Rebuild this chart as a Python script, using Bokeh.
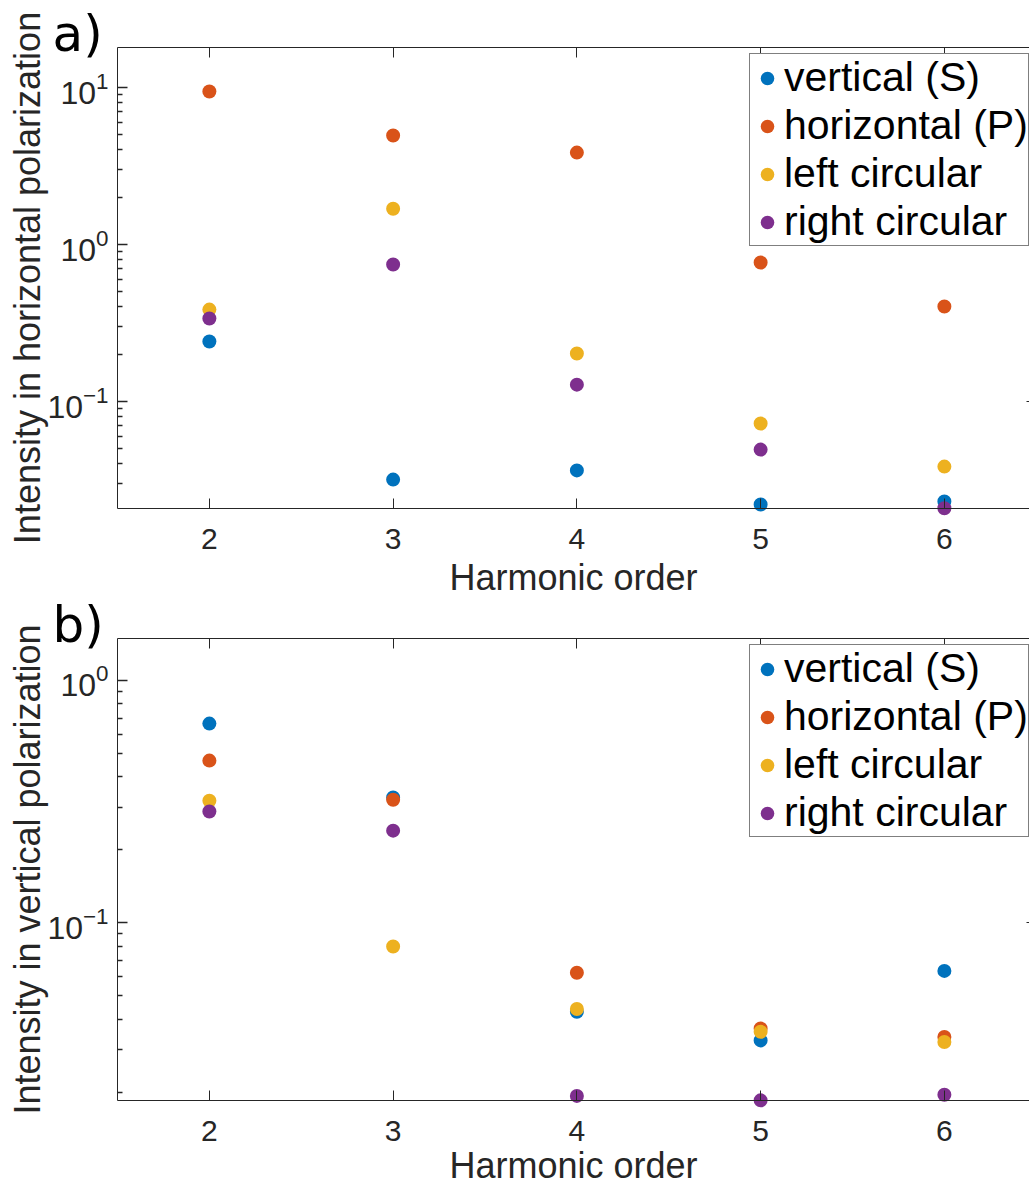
from bokeh.plotting import figure
from bokeh.models import (Range1d, LinearAxis, LogAxis, LogScale, FixedTicker,
                          Legend, LegendItem, Label)
from bokeh.embed import file_html
from bokeh.resources import INLINE

# Harmonic orders on the x axis
harmonic = [2, 3, 4, 5, 6]

series_names = ["vertical (S)", "horizontal (P)", "left circular", "right circular"]
series_colors = ["#0072BD", "#D95319", "#EDB120", "#7E2F8E"]

# a) intensity detected in horizontal polarization, per input polarization
a_vertical_s = [0.241, 0.0318, 0.0364, 0.0221, 0.0231]
a_horizontal_p = [9.43, 4.95, 3.85, 0.768, 0.403]
a_left_circular = [0.385, 1.69, 0.202, 0.0724, 0.0385]
a_right_circular = [0.338, 0.746, 0.128, 0.0494, 0.0209]

# b) intensity detected in vertical polarization, per input polarization
b_vertical_s = [0.664, 0.329, 0.0429, 0.0327, 0.0633]
b_horizontal_p = [0.467, 0.322, 0.0622, 0.0366, 0.0338]
b_left_circular = [0.319, 0.0798, 0.0441, 0.0355, 0.0322]
b_right_circular = [0.288, 0.240, 0.0193, 0.0185, 0.0195]

# axes-box limits: harmonic order, and log10 of the intensity
X_LIM = (1.5, 6.5)
A_YLIM_LOG = (-1.6815, 1.2548)
B_YLIM_LOG = (-1.7334, 0.1733)

A_MAJOR = [0.1, 1, 10]
B_MAJOR = [0.1, 1]
MINOR = [m * d for d in (0.01, 0.1, 1) for m in range(2, 10)]

AXIS_COLOR = "#262626"
FONT = "Liberation Sans"

# canvas geometry (px). The whole canvas is one plot frame; each panel's
# axes box is placed inside it through its own log y range.
W, H = 1029, 1184
BOX_LEFT = 117
PX_PER_X = 183.75
MAJOR_TICK, MINOR_TICK = 10, 5

x_range = Range1d(X_LIM[0] - BOX_LEFT / PX_PER_X, X_LIM[0] + (W - BOX_LEFT) / PX_PER_X)


def panel_range(ylog, box_top, box_bottom):
    lo, hi = ylog
    px_per_dec = (box_bottom - box_top) / (hi - lo)
    return Range1d(10 ** (lo - (H - box_bottom) / px_per_dec),
                   10 ** (hi + box_top / px_per_dec))


range_a = panel_range(A_YLIM_LOG, 47, 508)
range_b = panel_range(B_YLIM_LOG, 638, 1100)

p = figure(width=W, height=H, x_range=x_range, y_range=range_a,
           y_axis_type="log", x_axis_location=None, y_axis_location=None,
           output_backend="svg", toolbar_location=None, min_border=0)
p.extra_y_ranges = {"b": range_b}
p.extra_y_scales = {"b": LogScale()}
p.outline_line_color = None
p.background_fill_color = "white"
p.border_fill_color = "white"
p.grid.visible = False


def draw_panel(rname, tag, ylabel, values, ylog, major, box_top, xlabel_standoff):
    lo, hi = ylog
    y_lo, y_hi = 10 ** lo, 10 ** hi
    major_in = [t for t in major if y_lo <= t <= y_hi]
    minor_in = [m for m in MINOR if y_lo <= m <= y_hi]

    # left edge of the box with the axis title
    p.add_layout(LogAxis(y_range_name=rname, ticker=FixedTicker(ticks=[]),
                         fixed_location=X_LIM[0], bounds=(y_lo, y_hi),
                         axis_line_color=AXIS_COLOR,
                         major_tick_line_color=None, minor_tick_line_color=None,
                         axis_label=ylabel, axis_label_text_font=FONT,
                         axis_label_text_font_size="36px",
                         axis_label_text_font_style="normal",
                         axis_label_text_color=AXIS_COLOR, axis_label_standoff=70),
                 "left")

    # power-of-ten labels on the left edge
    p.add_layout(LogAxis(y_range_name=rname, ticker=FixedTicker(ticks=major_in),
                         fixed_location=X_LIM[0], axis_line_color=None,
                         major_tick_line_color=None, minor_tick_line_color=None,
                         major_tick_in=0, major_tick_out=0,
                         major_label_text_font=FONT, major_label_text_font_size="32px",
                         major_label_text_color=AXIS_COLOR, major_label_standoff=9),
                 "left")

    # tick marks on the left edge, pointing into the box
    p.add_layout(LogAxis(y_range_name=rname,
                         ticker=FixedTicker(ticks=major_in, minor_ticks=minor_in),
                         fixed_location=X_LIM[0], bounds=(y_lo, y_hi),
                         axis_line_color=None,
                         major_tick_line_color=AXIS_COLOR, minor_tick_line_color=AXIS_COLOR,
                         major_tick_line_width=1.3, minor_tick_line_width=1.3,
                         major_tick_in=0, major_tick_out=MAJOR_TICK,
                         minor_tick_in=0, minor_tick_out=MINOR_TICK,
                         major_label_overrides={t: "" for t in major_in}),
                 "right")

    # right edge of the box (just past the page edge), major ticks only
    p.add_layout(LogAxis(y_range_name=rname, ticker=FixedTicker(ticks=major_in),
                         fixed_location=X_LIM[1], bounds=(y_lo, y_hi),
                         axis_line_color=AXIS_COLOR,
                         major_tick_line_color=AXIS_COLOR, minor_tick_line_color=None,
                         major_tick_in=MAJOR_TICK, major_tick_out=0,
                         major_label_overrides={t: "" for t in major_in}),
                 "right")

    # bottom axis
    p.add_layout(LinearAxis(y_range_name=rname, ticker=FixedTicker(ticks=harmonic),
                            fixed_location=y_lo, bounds=X_LIM,
                            axis_line_color=AXIS_COLOR, major_tick_line_color=AXIS_COLOR,
                            major_tick_in=MAJOR_TICK, major_tick_out=0,
                            minor_tick_line_color=None,
                            major_label_text_font=FONT, major_label_text_font_size="30px",
                            major_label_text_color=AXIS_COLOR, major_label_standoff=20,
                            axis_label="Harmonic order", axis_label_text_font=FONT,
                            axis_label_text_font_size="36px",
                            axis_label_text_font_style="normal",
                            axis_label_text_color=AXIS_COLOR,
                            axis_label_standoff=xlabel_standoff),
                 "below")

    # top edge of the box with inward ticks
    p.add_layout(LinearAxis(y_range_name=rname, ticker=FixedTicker(ticks=harmonic),
                            fixed_location=y_hi, bounds=X_LIM,
                            axis_line_color=AXIS_COLOR, major_tick_line_color=AXIS_COLOR,
                            major_tick_in=MAJOR_TICK, major_tick_out=0,
                            minor_tick_line_color=None,
                            major_label_overrides={h: "" for h in harmonic}),
                 "above")

    items = []
    for name, color, vals in zip(series_names, series_colors, values):
        r = p.scatter(harmonic, vals, size=14, fill_color=color, line_color=None,
                      y_range_name=rname)
        items.append(LegendItem(label=name, renderers=[r]))

    legend_h = 191
    p.add_layout(Legend(items=items, location=(749, H - (box_top + 8 + legend_h)),
                        glyph_width=34, glyph_height=34, label_height=47,
                        label_standoff=0, padding=0, spacing=1, margin=0,
                        label_text_font=FONT, label_text_font_size="41px",
                        label_text_color="black", border_line_color="black",
                        border_line_width=1, background_fill_color="white",
                        background_fill_alpha=1))

    p.add_layout(Label(x=X_LIM[0], y=y_hi, y_range_name=rname, x_offset=-65,
                       y_offset=14, text=tag, text_font="DejaVu Sans",
                       text_font_size="50px", text_color="black",
                       text_baseline="alphabetic"))


draw_panel("default", "a)", "Intensity in horizontal polarization",
           [a_vertical_s, a_horizontal_p, a_left_circular, a_right_circular],
           A_YLIM_LOG, A_MAJOR, 47, 5)
draw_panel("b", "b)", "Intensity in vertical polarization",
           [b_vertical_s, b_horizontal_p, b_left_circular, b_right_circular],
           B_YLIM_LOG, B_MAJOR, 638, 1)

open("out.html", "w").write(file_html(p, INLINE))
